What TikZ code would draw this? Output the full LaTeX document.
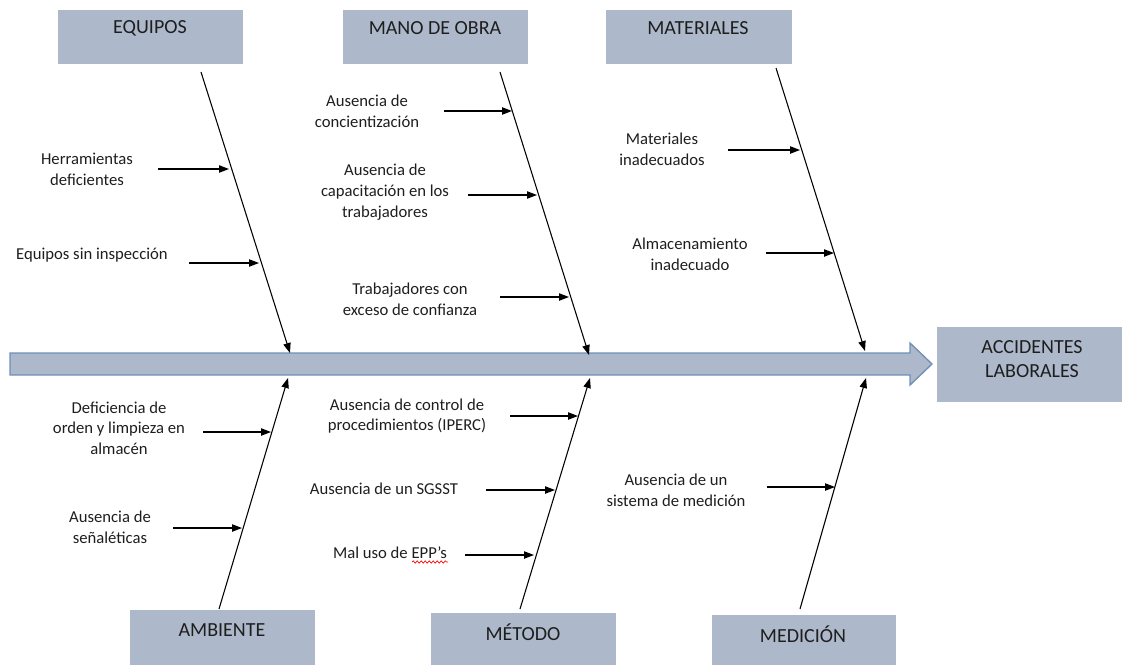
\documentclass[tikz,border=0pt]{standalone}
\usepackage{fontspec}
\setmainfont{Carlito}
\usetikzlibrary{arrows.meta,decorations.pathmorphing}
\definecolor{boxfill}{HTML}{ADB9CA}
\definecolor{spineline}{HTML}{6F8FB8}
\definecolor{txt}{HTML}{1E1E1E}
\tikzset{
  catbox/.style={fill=boxfill, draw=white, line width=0.5pt, inner sep=0pt, anchor=north west},
  cattext/.style={font=\fontsize{15}{18}\selectfont, text=txt, inner sep=0pt},
  cause/.style={font=\fontsize{12.5}{15.5}\selectfont, text=txt, align=center, inner sep=0pt},
  bone/.style={draw=black, line width=0.8pt, -{Triangle[length=7.5pt,width=5.5pt]}},
  sub/.style={draw=black, line width=0.9pt, -{Triangle[length=7.5pt,width=5.5pt]}}
}
\begin{document}
\begin{tikzpicture}[x=0.75pt,y=-0.75pt]
\useasboundingbox (0,0) rectangle (1126,664);
% spine
\coordinate (s1) at (10,353);
\coordinate (s2) at (910,353);
\coordinate (s3) at (910,343);
\coordinate (tip) at (932,364);
\coordinate (s4) at (910,385);
\coordinate (s5) at (910,375);
\coordinate (s6) at (10,375);
\filldraw[fill=boxfill, draw=spineline, line width=1pt, line join=miter]
  (s1) -- (s2) -- (s3) -- (tip) -- (s4) -- (s5) -- (s6) -- cycle;
% effect box
\node[catbox, minimum width=186*0.75pt, minimum height=76*0.75pt] (eff) at (936,326) {};
\node[cattext, align=center, font=\fontsize{15}{18}\selectfont] (efft) at (1032,359) {ACCIDENTES\\LABORALES};
% top category boxes
\node[catbox, minimum width=186*0.75pt, minimum height=55*0.75pt] (eqbox) at (57,9) {};
\node[cattext] (eqt) at (150,28) {EQUIPOS};
\node[catbox, minimum width=186*0.75pt, minimum height=55*0.75pt] (mobox) at (342,9) {};
\node[cattext] (mot) at (435,28) {MANO DE OBRA};
\node[catbox, minimum width=187*0.75pt, minimum height=55*0.75pt] (mabox) at (605,9) {};
\node[cattext] (mat) at (698,28) {MATERIALES};
% bottom category boxes
\node[catbox, minimum width=186*0.75pt, minimum height=56*0.75pt] (ambox) at (129,609) {};
\node[cattext] (amt) at (222,630) {AMBIENTE};
\node[catbox, minimum width=186*0.75pt, minimum height=53*0.75pt] (mebox) at (430,612) {};
\node[cattext] (met) at (523,632) {MÉTODO};
\node[catbox, minimum width=185*0.75pt, minimum height=51*0.75pt] (mdbox) at (711,614) {};
\node[cattext] (mdt) at (803,634) {MEDICIÓN};
% bone coordinates
\coordinate (eqA) at (201,72);  \coordinate (eqB) at (290,353);
\coordinate (moA) at (500,72);  \coordinate (moB) at (589,355);
\coordinate (maA) at (776,68);  \coordinate (maB) at (865,351);
\coordinate (amA) at (219,609); \coordinate (amB) at (288,378);
\coordinate (meA) at (520,609); \coordinate (meB) at (590,378);
\coordinate (mdA) at (800,609); \coordinate (mdB) at (866,378);
\draw[bone] (eqA) -- (eqB);
\draw[bone] (moA) -- (moB);
\draw[bone] (maA) -- (maB);
\draw[bone] (amA) -- (amB);
\draw[bone] (meA) -- (meB);
\draw[bone] (mdA) -- (mdB);
% EQUIPOS causes
\node[cause] (c1) at (87,169) {Herramientas\\deficientes};
\coordinate (c1a) at (158,169); \coordinate (c1b) at (229,169);
\draw[sub] (c1a) -- (c1b);
\node[cause] (c2) at (92,255) {Equipos sin inspección};
\coordinate (c2a) at (189,263); \coordinate (c2b) at (259,263);
\draw[sub] (c2a) -- (c2b);
% MANO DE OBRA causes
\node[cause] (c3) at (367,111) {Ausencia de\\concientización};
\coordinate (c3a) at (444,111); \coordinate (c3b) at (512,111);
\draw[sub] (c3a) -- (c3b);
\node[cause] (c4) at (385,192) {Ausencia de\\capacitación en los\\trabajadores};
\coordinate (c4a) at (468,195); \coordinate (c4b) at (537,195);
\draw[sub] (c4a) -- (c4b);
\node[cause] (c5) at (410,299) {Trabajadores con\\exceso de confianza};
\coordinate (c5a) at (500,297); \coordinate (c5b) at (569,297);
\draw[sub] (c5a) -- (c5b);
% MATERIALES causes
\node[cause] (c6) at (662,149) {Materiales\\inadecuados};
\coordinate (c6a) at (728,150); \coordinate (c6b) at (800,150);
\draw[sub] (c6a) -- (c6b);
\node[cause] (c7) at (690,254) {Almacenamiento\\inadecuado};
\coordinate (c7a) at (766,253); \coordinate (c7b) at (834,253);
\draw[sub] (c7a) -- (c7b);
% AMBIENTE causes
\node[cause] (c8) at (119,428) {Deficiencia de\\orden y limpieza en\\almacén};
\coordinate (c8a) at (203,432); \coordinate (c8b) at (271,432);
\draw[sub] (c8a) -- (c8b);
\node[cause] (c9) at (110,527) {Ausencia de\\señaléticas};
\coordinate (c9a) at (173,528); \coordinate (c9b) at (242,528);
\draw[sub] (c9a) -- (c9b);
% MÉTODO causes
\node[cause] (c10) at (407,416) {Ausencia de control de\\procedimientos (IPERC)};
\coordinate (c10a) at (510,416); \coordinate (c10b) at (578,416);
\draw[sub] (c10a) -- (c10b);
\node[cause] (c11) at (384,489) {Ausencia de un SGSST};
\coordinate (c11a) at (486,490); \coordinate (c11b) at (555,490);
\draw[sub] (c11a) -- (c11b);
\node[cause] (c12) at (390,553) {Mal uso de EPP’s};
\coordinate (c12a) at (465,555); \coordinate (c12b) at (534,555);
\draw[sub] (c12a) -- (c12b);
\coordinate (w1) at (412,562); \coordinate (w2) at (448,562);
\draw[red, line width=0.5pt, decorate, decoration={snake, amplitude=0.9pt, segment length=3pt}] (w1) -- (w2);
% MEDICIÓN causes
\node[cause] (c13) at (676,490) {Ausencia de un\\sistema de medición};
\coordinate (c13a) at (767,487); \coordinate (c13b) at (835,487);
\draw[sub] (c13a) -- (c13b);
\end{tikzpicture}
\end{document}
